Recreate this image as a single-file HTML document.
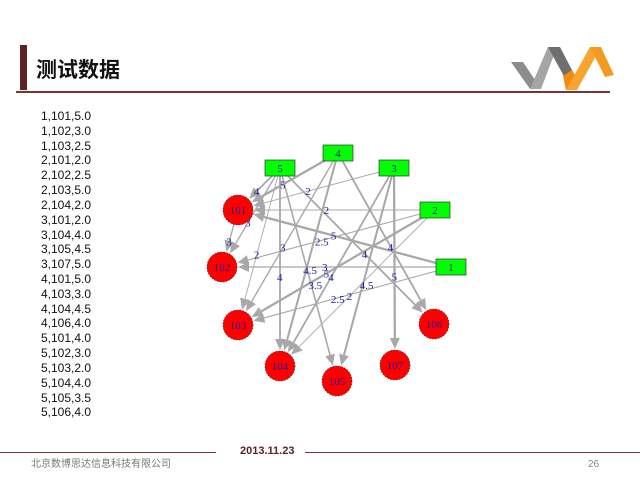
<!DOCTYPE html>
<html><head><meta charset="utf-8">
<style>
html,body{margin:0;padding:0;background:#fff;}
svg{display:block;}
</style></head>
<body>
<svg id="s" width="640" height="480" xmlns="http://www.w3.org/2000/svg">
<rect x="20" y="45" width="7" height="45" fill="#5e2222"/>
<text x="36" y="77" font-family="'Liberation Sans','Noto Sans CJK SC',sans-serif" font-size="21" font-weight="bold" fill="#111">测试数据</text>
<rect x="16" y="91" width="594" height="2" fill="#7a3434"/>
<!-- logo -->
<polygon points="511,62 523,62 541,89 530,89" fill="#8c8c8c"/>
<polygon points="530,89 541,89 557,47 548,47" fill="#a5a5a5"/>
<polygon points="548,47 560,47 573,72 566,80" fill="#6f6f6f"/>
<polygon points="563,76 572,70 580,84 576,90 566,90" fill="#f08c10"/>
<polygon points="566,90 577,90 601,47 590,47" fill="#f7a530"/>
<polygon points="590,47 601,47 614,75 605,77" fill="#f39a20"/>
<g font-family="'Liberation Sans',sans-serif" font-size="12" fill="#111">
<text x="41" y="120">1,101,5.0</text>
<text x="41" y="135">1,102,3.0</text>
<text x="41" y="150">1,103,2.5</text>
<text x="41" y="164">2,101,2.0</text>
<text x="41" y="179">2,102,2.5</text>
<text x="41" y="194">2,103,5.0</text>
<text x="41" y="209">2,104,2.0</text>
<text x="41" y="224">3,101,2.0</text>
<text x="41" y="239">3,104,4.0</text>
<text x="41" y="253">3,105,4.5</text>
<text x="41" y="268">3,107,5.0</text>
<text x="41" y="283">4,101,5.0</text>
<text x="41" y="298">4,103,3.0</text>
<text x="41" y="313">4,104,4.5</text>
<text x="41" y="327">4,106,4.0</text>
<text x="41" y="342">5,101,4.0</text>
<text x="41" y="357">5,102,3.0</text>
<text x="41" y="372">5,103,2.0</text>
<text x="41" y="387">5,104,4.0</text>
<text x="41" y="402">5,105,3.5</text>
<text x="41" y="416">5,106,4.0</text>
</g>
<g id="edges"></g>
<g id="labels" font-family="'Liberation Serif',serif" font-size="11" fill="#1a1aa0"></g>
<g id="nodes"></g>
<rect x="0" y="452" width="216" height="1" fill="#7a3434"/>
<rect x="305" y="452" width="335" height="1" fill="#7a3434"/>
<text x="240" y="454" font-family="'Liberation Sans',sans-serif" font-size="11" font-weight="bold" fill="#5e2222">2013.11.23</text>
<text x="31" y="467" font-family="'Liberation Sans','Noto Sans CJK SC',sans-serif" font-size="10" fill="#777">北京数博思达信息科技有限公司</text>
<text x="588" y="467" font-family="'Liberation Sans',sans-serif" font-size="10" fill="#888">26</text>
</svg>
<script>
var NS="http://www.w3.org/2000/svg";
var src={"1":[451,267],"2":[435,210],"3":[394,168],"4":[338,153],"5":[280,168]};
var dst={"101":[238,210],"102":[222,267],"103":[238,325],"104":[280,366],"105":[337,381],"106":[434,324],"107":[395,365]};
var E=[["1","101",5],["1","102",3],["1","103",2.5],["2","101",2],["2","102",2.5],["2","103",5],["2","104",2],["3","101",2],["3","104",4],["3","105",4.5],["3","107",5],["4","101",5],["4","103",3],["4","104",4.5],["4","106",4],["5","101",4],["5","102",3],["5","103",2],["5","104",4],["5","105",3.5],["5","106",4],["101","102",3]];
function el(t,a,p){var e=document.createElementNS(NS,t);for(var k in a)e.setAttribute(k,a[k]);p.appendChild(e);return e;}
var ge=document.getElementById("edges"),gn=document.getElementById("nodes"),gl=document.getElementById("labels");
var all={};for(var k in src)all[k]=src[k];for(var k in dst)all[k]=dst[k];
E.forEach(function(e){
 var a=all[e[0]],b=all[e[1]],w=e[2];
 var dx=b[0]-a[0],dy=b[1]-a[1],L=Math.sqrt(dx*dx+dy*dy),ux=dx/L,uy=dy/L;
 var ex=b[0]-ux*16,ey=b[1]-uy*16;
 var al=11,aw=5;
 var bx=ex-ux*al,by=ey-uy*al;
 var sw=w*0.45;
 el("line",{x1:a[0],y1:a[1],x2:bx,y2:by,stroke:"#a8a8a8","stroke-width":sw},ge);
 el("polygon",{points:ex+","+ey+" "+(bx-uy*aw)+","+(by+ux*aw)+" "+(bx+uy*aw)+","+(by-ux*aw),fill:"#a8a8a8"},ge);
 var t=el("text",{x:a[0]+dx*0.55-3,y:a[1]+dy*0.55+4},gl);
 t.textContent=String(w);
});
for(var k in dst){var p=dst[k];
 el("circle",{cx:p[0],cy:p[1],r:15,fill:"#ff0000",stroke:"#222","stroke-width":0.6,"stroke-dasharray":"1.5,1.5"},gn);
 var t=el("text",{x:p[0],y:p[1]+4,"text-anchor":"middle","font-family":"'Liberation Serif',serif","font-size":"11",fill:"#1a1aa0"},gn);t.textContent=k;}
for(var k in src){var p=src[k];
 el("rect",{x:p[0]-15,y:p[1]-8,width:30,height:16,fill:"#00ff00",stroke:"#333","stroke-width":0.7},gn);
 var t=el("text",{x:p[0],y:p[1]+4,"text-anchor":"middle","font-family":"'Liberation Serif',serif","font-size":"11",fill:"#1a1aa0"},gn);t.textContent=k;}
</script>
</body></html>
